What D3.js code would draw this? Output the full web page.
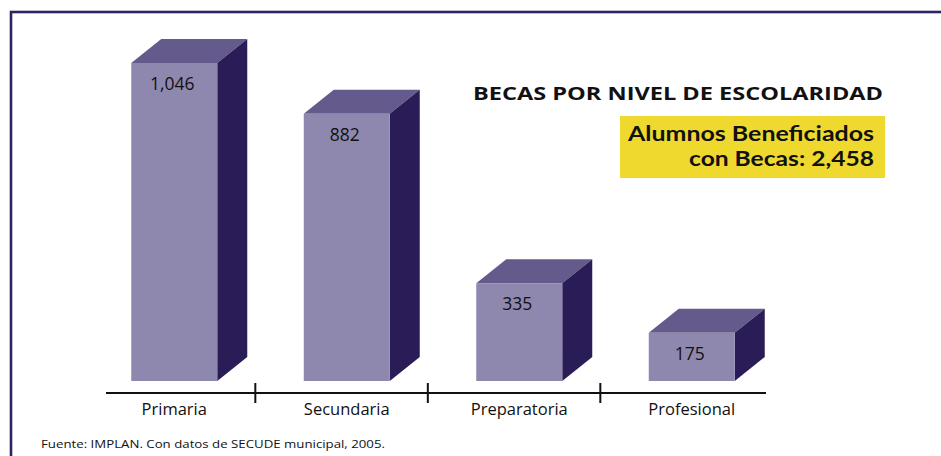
<!DOCTYPE html>
<html><head><meta charset="utf-8">
<script src="https://cdn.jsdelivr.net/npm/d3@7/dist/d3.min.js"></script>
<style>html,body{margin:0;padding:0;background:#fff;}svg{display:block;}</style>
</head><body>
<svg id="c" width="941" height="456"></svg>
<script>
const categories = ["Primaria", "Secundaria", "Preparatoria", "Profesional"];
const values = [1046, 882, 335, 175];
const valueLabels = ["1,046", "882", "335", "175"];
const title = "BECAS POR NIVEL DE ESCOLARIDAD";
const totalLines = ["Alumnos Beneficiados", "con Becas: 2,458"];
const source = "Fuente: IMPLAN. Con datos de SECUDE municipal, 2005.";

const svg = d3.select("#c");
const font = "'Open Sans', 'DejaVu Sans', sans-serif";

// frame
svg.append("rect").attr("x", 11).attr("y", 12).attr("width", 960).attr("height", 480)
  .attr("fill", "none").attr("stroke", "#2d2462").attr("stroke-width", 2.6);

const floorY = 381;
const x = d3.scaleBand().domain(categories).range([88, 778]);
const y = d3.scaleLinear().domain([0, 1046]).range([387, 63]);
const frontW = 86, dx = 30, dy = 24;

const g = svg.append("g");
categories.forEach((c, i) => {
  const cx = x(c) + x.bandwidth() / 2;
  const x0 = cx - frontW / 2, x1 = cx + frontW / 2;
  const top = y(values[i]);
  g.append("path").attr("d", `M${x0},${top}L${x0+dx},${top-dy}L${x1+dx},${top-dy}L${x1},${top}Z`).attr("fill", "#645a8b");
  g.append("path").attr("d", `M${x1},${top}L${x1+dx},${top-dy}L${x1+dx},${floorY-dy}L${x1},${floorY}Z`).attr("fill", "#2a1c56");
  g.append("rect").attr("x", x0).attr("y", top).attr("width", frontW).attr("height", floorY - top).attr("fill", "#8f88ae");
  g.append("text").attr("x", cx - 2).attr("y", top + 27).attr("text-anchor", "middle")
    .attr("font-family", font).attr("font-size", 17.5).attr("fill", "#111").text(valueLabels[i]);
  g.append("text").attr("x", cx).attr("y", 415).attr("text-anchor", "middle")
    .attr("font-family", font).attr("font-size", 16.5).attr("fill", "#111").text(c);
});

// axis
svg.append("line").attr("x1", 106).attr("x2", 766).attr("y1", 393).attr("y2", 393).attr("stroke", "#111").attr("stroke-width", 2);
categories.slice(0, -1).forEach(c => {
  const tx = x(c) + x.step() * 0.97;
  svg.append("line").attr("x1", tx).attr("x2", tx).attr("y1", 383).attr("y2", 403).attr("stroke", "#111").attr("stroke-width", 2);
});

// title
svg.append("text").attr("x", 883).attr("y", 100).attr("text-anchor", "end")
  .attr("font-family", font).attr("font-weight", "bold").attr("font-size", 18.5).attr("fill", "#111")
  .attr("textLength", 410).attr("lengthAdjust", "spacingAndGlyphs").text(title);

// yellow box
svg.append("rect").attr("x", 620).attr("y", 116).attr("width", 265).attr("height", 62).attr("fill", "#efd92f");
const boxLens = [246, 185];
totalLines.forEach((t, i) => {
  svg.append("text").attr("x", 874).attr("y", 141 + i * 25).attr("text-anchor", "end")
    .attr("font-family", "Lato, 'Open Sans', sans-serif").attr("font-weight", "bold").attr("font-size", 21).attr("fill", "#111")
    .attr("textLength", boxLens[i]).attr("lengthAdjust", "spacingAndGlyphs").text(t);
});

// source
svg.append("text").attr("x", 41).attr("y", 448).attr("font-family", font).attr("font-size", 11.5).attr("fill", "#111")
  .attr("textLength", 344).attr("lengthAdjust", "spacingAndGlyphs").text(source);
</script>
</body></html>
